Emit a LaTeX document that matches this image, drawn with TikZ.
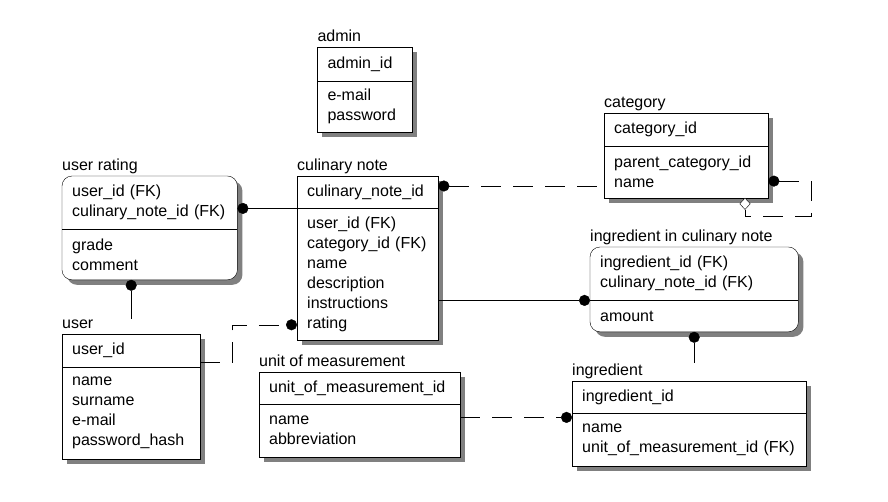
\documentclass[tikz,border=0pt]{standalone}
\usepackage{fontspec}
\setmainfont{Liberation Sans}
\usetikzlibrary{positioning,calc,arrows.meta,backgrounds}

\newcommand{\erfont}{\fontsize{16}{20}\selectfont}
% shadow, outline and divider of one entity
\newcommand{\erframe}[3][sharp corners]{%
  \begin{pgfonlayer}{background}
    \fill[ershadow,#1] ([shift={(5,5)}]#2.north west) rectangle ([shift={(5,5)}]#3.south east);
    \draw[fill=white,#1] (#2.north west) rectangle (#3.south east);
  \end{pgfonlayer}
  \draw (#2.south west) -- (#2.south east);
}

\tikzset{
  erkey/.style={anchor=north west, inner xsep=10pt, inner ysep=0pt, align=left, minimum height=#1},
  eratt/.style={inner xsep=10pt, inner ysep=0pt, align=left, minimum height=#1},
  ertitle/.style={anchor=base west, inner sep=0pt},
  ershadow/.style={fill=black!50},
  optional/.style={dash pattern=on 20pt off 12pt},
  erdot/.tip={Circle[length=11pt]},
  erdiamond/.tip={Diamond[fill=white, length=12pt, width=11pt]}
}

\begin{document}
\begin{tikzpicture}[x=1pt, y=-1pt, line width=1pt, font=\erfont]
	\useasboundingbox (0,0) rectangle (888,501);

	% admin
	\node[erkey=33, text width=74] (adminK) at (317,47) {admin\_id};
	\node[eratt=50, text width=74, below=0pt of adminK] (adminA) {e-mail\\password};
	\node[ertitle] (adminT) at ($(adminK.north west)+(0,-6)$) {admin};
	\erframe{adminK}{adminA}

	% category
	\node[erkey=33, text width=144] (catK) at (604,113) {category\_id};
	\node[eratt=51, text width=144, below=0pt of catK] (catA) {parent\_category\_id\\name};
	\node[ertitle] (catT) at ($(catK.north west)+(0,-6)$) {category};
	\erframe{catK}{catA}

	% user rating
	\node[erkey=53, text width=155] (urK) at (62,176) {user\_id~(FK)\\culinary\_note\_id~(FK)};
	\node[eratt=50, text width=155, below=0pt of urK] (urA) {grade\\comment};
	\node[ertitle] (urT) at ($(urK.north west)+(0,-6)$) {user rating};
	\erframe[rounded corners=10pt]{urK}{urA}

	% culinary note
	\node[erkey=32, text width=121] (cnK) at (297,176) {culinary\_note\_id};
	\node[eratt=131, text width=121, below=0pt of cnK] (cnA) {user\_id~(FK)\\category\_id~(FK)\\name\\description\\instructions\\rating};
	\node[ertitle] (cnT) at ($(cnK.north west)+(0,-6)$) {culinary note};
	\erframe{cnK}{cnA}

	% ingredient in culinary note
	\node[erkey=53, text width=188] (icnK) at (590,247) {ingredient\_id~(FK)\\culinary\_note\_id~(FK)};
	\node[eratt=31, text width=188, below=0pt of icnK] (icnA) {amount};
	\node[ertitle] (icnT) at ($(icnK.north west)+(0,-6)$) {ingredient in culinary note};
	\erframe[rounded corners=10pt]{icnK}{icnA}

	% user
	\node[erkey=33, text width=118] (userK) at (62,334) {user\_id};
	\node[eratt=91, text width=118, below=0pt of userK] (userA) {name\\surname\\e-mail\\password\_hash};
	\node[ertitle] (userT) at ($(userK.north west)+(0,-6)$) {user};
	\erframe{userK}{userA}

	% unit of measurement
	\node[erkey=32, text width=181] (uomK) at (259,372) {unit\_of\_measurement\_id};
	\node[eratt=52, text width=181, below=0pt of uomK] (uomA) {name\\abbreviation};
	\node[ertitle] (uomT) at ($(uomK.north west)+(0,-6)$) {unit of measurement};
	\erframe{uomK}{uomA}

	% ingredient
	\node[erkey=32, text width=214] (ingK) at (572,381) {ingredient\_id};
	\node[eratt=52, text width=214, below=0pt of ingK] (ingA) {name\\unit\_of\_measurement\_id~(FK)};
	\node[ertitle] (ingT) at ($(ingK.north west)+(0,-6)$) {ingredient};
	\erframe{ingK}{ingA}

	% relationships
	\draw[erdot-] (cnK.south west -| urK.east) -- (cnK.south west);
	\draw[erdot-] (urA.south -| userK.north) -- (userT.north -| userK.north);
	\coordinate (cnCat) at ($(cnK.north east)+(0,10)$);
	\draw[optional, erdot-] (cnCat) -- (cnCat -| catA.west);
	\draw[optional, erdot-erdiamond] ($(catA.east)+(0,9)$) -- ++(43,0) -- ++(0,35) -| ($(catA.south west)+(141,0)$);
	\draw[optional, -erdot] ($(userK.south east)+(0,-5)$) -- ++(32,0) |- ($(cnA.south west)+(0,-15)$);
	\draw[-erdot] (icnK.south west -| cnA.east) -- (icnK.south west);
	\draw[erdot-] (icnA.south) -- (icnA.south |- ingT.north);
	\coordinate (ingIn) at ($(ingK.south west)+(0,4)$);
	\draw[optional, -erdot] (ingIn -| uomA.east) -- (ingIn);
\end{tikzpicture}
\end{document}
